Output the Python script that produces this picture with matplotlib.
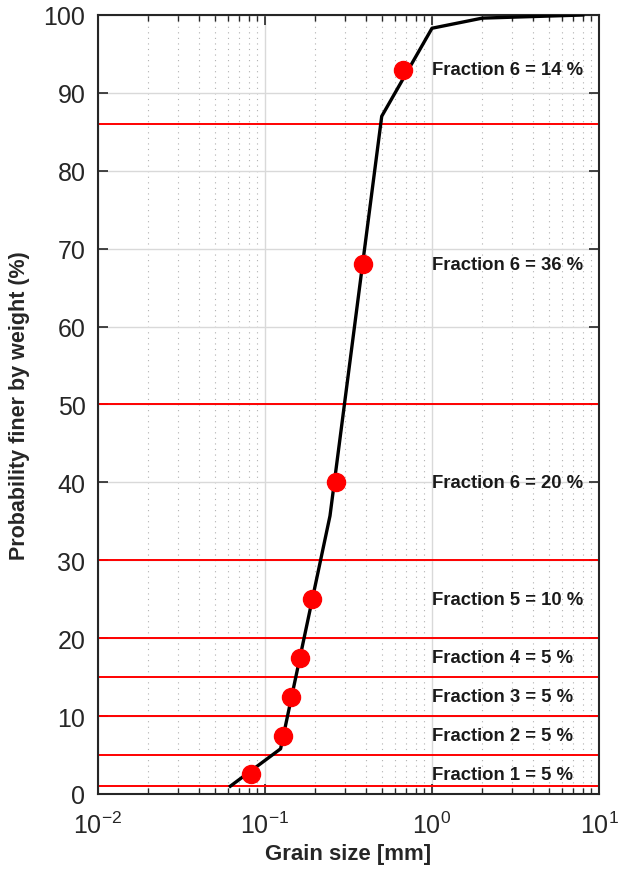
import numpy as np
import matplotlib
matplotlib.use("Agg")
from matplotlib import pyplot as plt
from matplotlib.ticker import LogLocator, NullFormatter, MultipleLocator

# Grain size distribution curve
grain_size = [0.062, 0.124, 0.245, 0.5, 1.0, 2.0, 8.0]
pct_finer = [1.0, 5.8, 35.7, 87.0, 98.3, 99.6, 100.0]

# Fraction boundaries (red lines)
bounds = [1, 5, 10, 15, 20, 30, 50, 86]

# Representative points of each fraction
dot_size = [0.082, 0.128, 0.143, 0.161, 0.191, 0.265, 0.385, 0.67]
dot_pct = [2.5, 7.5, 12.5, 17.5, 25, 40, 68, 93]
labels = ["Fraction 1 = 5 %", "Fraction 2 = 5 %", "Fraction 3 = 5 %",
          "Fraction 4 = 5 %", "Fraction 5 = 10 %", "Fraction 6 = 20 %",
          "Fraction 6 = 36 %", "Fraction 6 = 14 %"]

plt.rcParams['font.family'] = ['Liberation Sans', 'DejaVu Sans']
plt.rcParams['axes.unicode_minus'] = False

fig = plt.figure(figsize=(6.19, 8.79), dpi=100)
ax = fig.add_axes([0.1583, 0.0956, 0.8094, 0.8862])

ax.set_xscale("log")
ax.set_xlim(1e-2, 1e1)
ax.set_ylim(0, 100)

# grids
ax.grid(True, which="major", color="#d9d9d9", linewidth=1.0, zorder=0)
ax.xaxis.set_minor_locator(LogLocator(base=10, subs=np.arange(2, 10)))
ax.xaxis.set_minor_formatter(NullFormatter())
ax.grid(True, which="minor", axis="x", color="#b0b0b0", linestyle=(0, (1, 4)),
        linewidth=0.8, zorder=0)
ax.yaxis.set_major_locator(MultipleLocator(10))

for b in bounds:
    ax.axhline(b, color="red", linewidth=1.4, zorder=2)

ax.plot(grain_size, pct_finer, color="black", linewidth=2.4, zorder=3)
ax.plot(dot_size, dot_pct, "o", color="red", markersize=13, zorder=4)

for p, lab in zip(dot_pct, labels):
    ax.text(1.0, p, lab, fontsize=13.3, fontweight="bold", va="center",
            ha="left", color="#1a1a1a", zorder=5)

ax.tick_params(which="both", direction="in", top=True, right=True,
               colors="#262626", labelcolor="#262626")
ax.tick_params(which="major", length=7, width=1.2, labelsize=18)
ax.tick_params(axis="x", which="major", pad=13)
ax.tick_params(axis="y", which="major", pad=9)
ax.tick_params(which="minor", length=4, width=1.0)
for s in ax.spines.values():
    s.set_color("#262626")
    s.set_linewidth(1.5)

ax.set_xlabel("Grain size [mm]", fontsize=16, fontweight="bold",
              color="#262626", labelpad=3)
ax.set_ylabel("Probability finer by weight (%)", fontsize=15.5,
              fontweight="bold", color="#262626", labelpad=10)

fig.savefig("out.png", dpi=100)
